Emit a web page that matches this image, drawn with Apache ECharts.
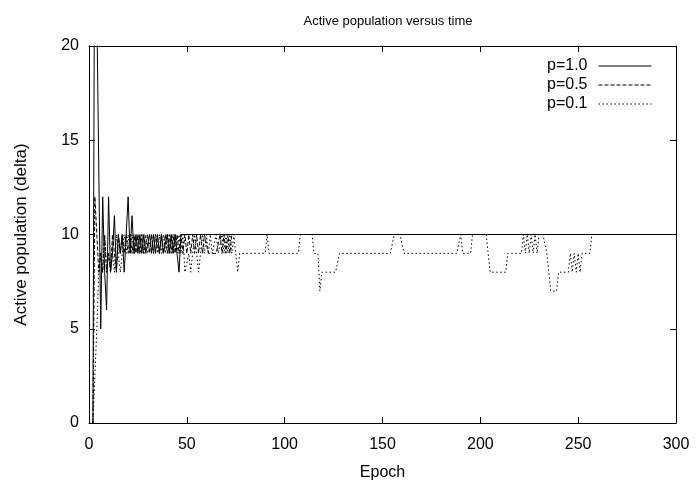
<!DOCTYPE html>
<html>
<head>
<meta charset="utf-8">
<script src="https://cdn.jsdelivr.net/npm/echarts@6/dist/echarts.min.js"></script>
<style>
  html, body { margin: 0; padding: 0; background: #fff; }
  #chart { width: 696px; height: 486px; }
</style>
</head>
<body>
<div id="chart"></div>
<script>
// values
const xTicks = [0, 50, 100, 150, 200, 250, 300]
const yTicks = [0, 5, 10, 15, 20]

const p10Epochs = [2, 3, 4, 6, 7, 8, 9, 10, 11, 12, 13, 14, 15, 16, 17, 18, 19, 20, 21, 22, 23, 24, 25,
  26, 27, 28, 29, 30, 31, 32, 33, 34, 35, 36, 37, 38, 39, 40, 41, 42, 43, 44, 45, 46, 47, 48, 300]
const p10Values = [0, 30, 22, 5, 12, 8, 6, 12, 8, 9, 11, 8, 10, 9, 10, 8, 8, 12, 9, 11, 9, 10, 9,
  10, 9, 10, 9, 9, 10, 9, 10, 9, 10, 9, 10, 9, 9, 10, 9, 10, 9, 10, 9, 8, 10, 10, 10]

const p05Epochs = [2, 3, 4, 5, 6, 7, 8, 9, 10, 11, 12, 13, 14, 15, 16, 17, 18, 19, 20, 21,
  22, 23, 24, 25, 26, 27, 28, 29, 30, 31, 32, 33, 34, 35, 36, 37, 38, 39, 40, 41,
  42, 43, 44, 45, 46, 47, 48, 49, 50, 51, 52, 53, 54, 55, 56, 57, 58, 59, 60, 61,
  62, 63, 64, 65, 66, 67, 68, 69, 70, 71, 72, 73, 74, 75, 300]
const p05Values = [0, 12, 12, 8, 9, 8, 10, 8, 9, 8, 10, 9, 8, 10, 9, 10, 9, 10, 9, 10,
  9, 10, 9, 10, 9, 10, 9, 9, 10, 9, 10, 9, 10, 10, 9, 10, 9, 10, 9, 10,
  9, 10, 9, 10, 9, 10, 9, 10, 9, 10, 9, 10, 9, 10, 9, 10, 9, 10, 10, 9,
  9, 9, 9, 9, 9, 10, 9, 10, 9, 10, 9, 10, 10, 10, 10]

const p01Epochs = [2, 4, 5, 6, 7, 8, 9, 10, 11, 12, 13, 14, 15, 16, 17, 18, 19, 20, 21, 22,
  23, 24, 25, 26, 27, 28, 29, 30, 31, 32, 33, 34, 35, 36, 37, 38, 39, 40, 41, 42,
  43, 44, 45, 46, 47, 48, 49, 50, 51, 52, 53, 54, 55, 56, 57, 58, 59, 60, 61, 62,
  63, 64, 65, 66, 67, 68, 69, 70, 71, 72, 73, 74, 75, 76, 77, 90, 91, 92, 107, 108,
  114, 115, 117, 118, 119, 126, 128, 154, 156, 159, 161, 188, 190, 191, 195, 196, 203, 205, 213, 214,
  221, 222, 223, 224, 225, 226, 227, 228, 229, 230, 232, 234, 235, 236, 239, 240, 245, 246, 247, 248,
  249, 250, 251, 252, 256, 257, 300]
const p01Values = [0, 5, 8, 9, 8, 10, 8, 9, 8, 9, 8, 10, 9, 8, 9, 10, 9, 10, 9, 10,
  9, 9, 10, 9, 10, 9, 10, 9, 9, 10, 9, 10, 9, 10, 9, 10, 9, 10, 9, 10,
  9, 10, 9, 10, 9, 10, 8, 8, 9, 8, 8, 10, 9, 8, 9, 10, 9, 10, 9, 10,
  9, 9, 10, 9, 9, 10, 9, 10, 9, 10, 9, 10, 9, 8, 9, 9, 10, 9, 9, 10,
  10, 9, 9, 7, 8, 8, 9, 9, 10, 10, 9, 9, 10, 9, 9, 10, 10, 8, 8, 9,
  9, 10, 9, 10, 9, 10, 9, 10, 9, 10, 10, 9, 8, 7, 7, 8, 8, 9, 8, 9,
  8, 9, 8, 9, 9, 10, 10]

const seriesNames = ['p=1.0', 'p=0.5', 'p=0.1']

const zip = (xs, ys) => xs.map((x, i) => [x, ys[i]])

const FONT = 'Liberation Sans, Arial, sans-serif'
const black = '#000'

const chart = echarts.init(document.getElementById('chart'), null, { renderer: 'canvas' })

const baseX = {
  type: 'value',
  min: xTicks[0],
  max: xTicks[xTicks.length - 1],
  interval: 50,
  axisLine: { show: true, onZero: false, lineStyle: { color: black, width: 1 } },
  axisTick: { show: true, inside: true, length: 6, lineStyle: { color: black } },
  splitLine: { show: false }
}
const baseY = {
  type: 'value',
  min: yTicks[0],
  max: yTicks[yTicks.length - 1],
  interval: 5,
  axisLine: { show: true, onZero: false, lineStyle: { color: black, width: 1 } },
  axisTick: { show: true, inside: true, length: 6, lineStyle: { color: black } },
  splitLine: { show: false }
}

const lineSeries = (name, data, type) => ({
  name,
  type: 'line',
  data,
  symbol: 'none',
  showSymbol: false,
  clip: true,
  xAxisIndex: 0,
  yAxisIndex: 0,
  lineStyle: { color: black, width: 1, type },
  itemStyle: { color: black },
  emphasis: { disabled: true }
})

chart.setOption({
  animation: false,
  backgroundColor: '#fff',
  textStyle: { fontFamily: FONT },
  title: {
    text: 'Active population versus time',
    left: 383,
    top: 10,
    textAlign: 'center',
    textStyle: { fontFamily: FONT, fontSize: 13, fontWeight: 'normal', color: black }
  },
  legend: {
    orient: 'vertical',
    right: 39,
    top: 53,
    align: 'right',
    itemWidth: 53,
    itemHeight: 14,
    itemGap: 3,
    data: seriesNames,
    itemStyle: { color: 'transparent', borderColor: 'transparent', borderWidth: 0, opacity: 0 },
    lineStyle: { width: 1 },
    textStyle: { fontFamily: FONT, fontSize: 16, color: black, padding: [0, 6, 0, 0] }
  },
  grid: { left: 89, right: 20, top: 46, bottom: 61, containLabel: false },
  xAxis: [
    {
      ...baseX,
      position: 'bottom',
      name: 'Epoch',
      nameLocation: 'middle',
      nameGap: 42,
      nameTextStyle: { fontFamily: FONT, fontSize: 16, color: black },
      axisLabel: { color: black, fontSize: 16, fontFamily: FONT, margin: 14 }
    },
    { ...baseX, position: 'top', axisLabel: { show: false } }
  ],
  yAxis: [
    {
      ...baseY,
      position: 'left',
      name: 'Active population (delta)',
      nameLocation: 'middle',
      nameGap: 59,
      nameTextStyle: { fontFamily: FONT, fontSize: 17, color: black },
      axisLabel: { color: black, fontSize: 16, fontFamily: FONT, margin: 10 }
    },
    { ...baseY, position: 'right', axisLabel: { show: false } }
  ],
  series: [
    lineSeries(seriesNames[0], zip(p10Epochs, p10Values), 'solid'),
    lineSeries(seriesNames[1], zip(p05Epochs, p05Values), [4, 2]),
    lineSeries(seriesNames[2], zip(p01Epochs, p01Values), [1.5, 2.5])
  ]
})
</script>
</body>
</html>
